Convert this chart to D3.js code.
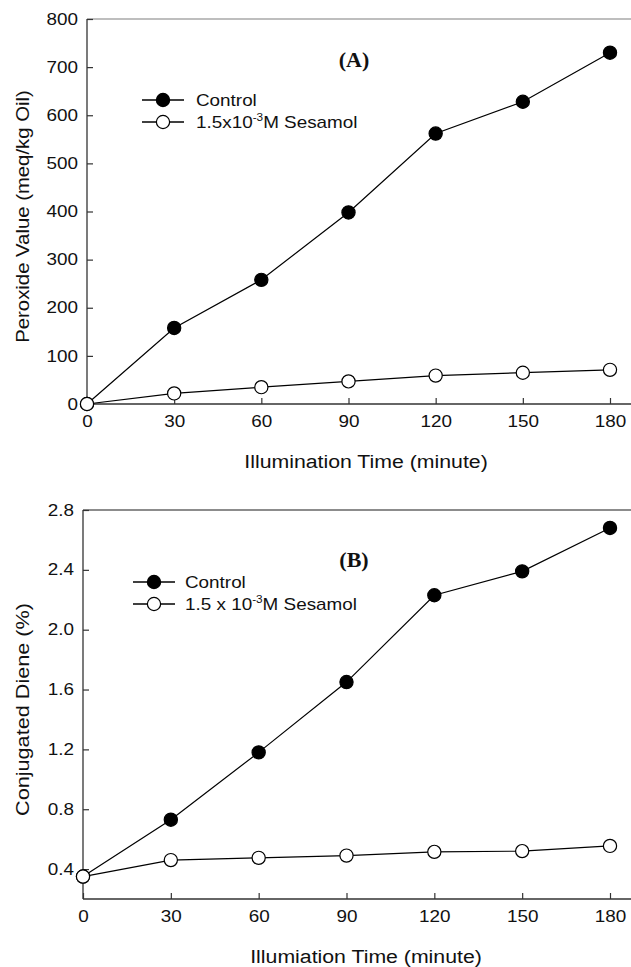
<!DOCTYPE html>
<html>
<head>
<meta charset="utf-8">
<script src="https://cdn.jsdelivr.net/npm/d3@7"></script>
<style>
  body { margin: 0; background: #fff; }
  svg { display: block; }
  text { font-family: "Liberation Sans", Arial, sans-serif; fill: #111; }
</style>
</head>
<body>
<div id="chart"></div>
<script>
//////////////////////////////////////////////////////////////
////////////////////////// Data //////////////////////////////
//////////////////////////////////////////////////////////////

var times = [0, 30, 60, 90, 120, 150, 180];

// panel A - peroxide value (meq/kg oil)
var peroxideControl = [0, 158, 258, 398, 562, 628, 730];
var peroxideSesamol = [0, 22, 35, 47, 59, 65, 71];
var peroxideTicks = [0, 100, 200, 300, 400, 500, 600, 700, 800];

// panel B - conjugated diene (%)
var dieneControl = [0.35, 0.73, 1.18, 1.65, 2.23, 2.39, 2.68];
var dieneSesamol = [0.35, 0.46, 0.475, 0.49, 0.515, 0.52, 0.555];
var dieneTicks = [0.4, 0.8, 1.2, 1.6, 2.0, 2.4, 2.8];

var width = 631, height = 967;
var stretch = 1.18;       // glyphs in the original are a bit wide
var titleStretch = 1.12;

var svg = d3.select("#chart").append("svg")
    .attr("width", width)
    .attr("height", height);

//////////////////////////////////////////////////////////////
///////////////////// Draw one panel /////////////////////////
//////////////////////////////////////////////////////////////

function drawPanel(p) {
    var x = d3.scaleLinear().domain([0, 180]).range([p.left, 610]);
    var y = d3.scaleLinear().domain(p.yDomain).range([p.bottom, p.top]);

    var g = svg.append("g");

    // top frame line
    g.append("line")
        .attr("x1", p.left).attr("x2", width)
        .attr("y1", p.top).attr("y2", p.top)
        .style("stroke", p.topColor).style("stroke-width", 1.5);

    // x axis
    var xAxis = d3.axisBottom(x).tickValues(times).tickSize(-6).tickPadding(12).tickSizeOuter(0);
    var gx = g.append("g")
        .attr("transform", "translate(0," + p.bottom + ")")
        .call(xAxis);
    gx.select(".domain").attr("d", "M" + p.left + ",0H" + width);

    // y axis
    var yAxis = d3.axisLeft(y).tickValues(p.ticks).tickSize(-6).tickPadding(9).tickSizeOuter(0)
        .tickFormat(p.format);
    var gy = g.append("g")
        .attr("transform", "translate(" + p.left + ",0)")
        .call(yAxis);
    gy.select(".domain").attr("d", "M0," + p.top + "V" + p.bottom);

    [gx, gy].forEach(function(a) {
        a.attr("font-family", null).attr("font-size", null);
        a.selectAll(".domain").style("stroke", "#333").style("stroke-width", 1.3);
        a.selectAll(".tick line").style("stroke", "#333").style("stroke-width", 1.2);
        a.selectAll(".tick text").style("font-size", "16px").style("fill", "#111");
    });
    gx.selectAll(".tick text").attr("transform", function() {
        var ty = +d3.select(this).attr("y");
        d3.select(this).attr("y", 0);
        return "translate(0," + ty + ") scale(" + stretch + ",1)";
    });
    gy.selectAll(".tick text").attr("transform", function() {
        var tx = +d3.select(this).attr("x");
        d3.select(this).attr("x", 0);
        return "translate(" + tx + ",0) scale(" + stretch + ",1)";
    });

    // axis titles
    g.append("text")
        .attr("transform", "translate(366," + (p.bottom + 64) + ") scale(" + titleStretch + ",1)")
        .attr("text-anchor", "middle")
        .style("font-size", "19px")
        .text(p.xTitle);
    g.append("text")
        .attr("transform", "translate(29," + ((p.top + p.bottom) / 2 + 5) + ") rotate(-90) scale(" + p.yTitleStretch + ",1)")
        .attr("text-anchor", "middle")
        .style("font-size", "19px")
        .text(p.yTitle);

    // panel letter
    g.append("text")
        .attr("x", 354).attr("y", p.top + p.letterDy)
        .attr("text-anchor", "middle")
        .style("font-family", "'Liberation Serif', 'Times New Roman', serif")
        .style("font-weight", "bold")
        .style("font-size", "22px")
        .text(p.letter);

    // lines and markers
    var line = d3.line()
        .x(function(d, i) { return x(times[i]); })
        .y(function(d) { return y(d); });

    [p.series[1], p.series[0]].forEach(function(s) {
        g.append("path")
            .datum(s.values)
            .attr("d", line)
            .style("fill", "none")
            .style("stroke", "#000")
            .style("stroke-width", 1.2);
    });
    [p.series[0], p.series[1]].forEach(function(s) {
        g.selectAll(null)
            .data(s.values)
            .enter().append("circle")
            .attr("cx", function(d, i) { return x(times[i]); })
            .attr("cy", function(d) { return y(d); })
            .attr("r", 6.6)
            .style("fill", s.fill)
            .style("stroke", "#000")
            .style("stroke-width", 1.2);
    });

    // legend
    var lg = g.append("g").attr("transform", "translate(" + p.legendX + "," + p.legendY + ")");
    p.series.forEach(function(s, i) {
        var row = lg.append("g").attr("transform", "translate(0," + (i * 22) + ")");
        row.append("line")
            .attr("x1", 0).attr("x2", 42)
            .style("stroke", "#000").style("stroke-width", 1.3);
        row.append("circle")
            .attr("cx", 21).attr("r", 6.6)
            .style("fill", s.fill).style("stroke", "#000").style("stroke-width", 1.2);
        var t = row.append("text")
            .attr("transform", "translate(" + p.legendTextDx + ",6) scale(" + stretch + ",1)")
            .style("font-size", "16px");
        t.append("tspan").text(s.pre);
        if (s.sup) {
            t.append("tspan").attr("dy", -7).style("font-size", "10px").text(s.sup);
            t.append("tspan").attr("dy", 7).text(s.post);
        }
    });
}

drawPanel({
    left: 87, top: 19, bottom: 404,
    yDomain: [0, 800], ticks: peroxideTicks, format: d3.format("d"),
    topColor: "#a8a8a8",
    xTitle: "Illumination Time (minute)",
    yTitle: "Peroxide Value (meq/kg Oil)", yTitleStretch: 1.07,
    letter: "(A)", letterDy: 48,
    legendX: 142, legendY: 100, legendTextDx: 54,
    series: [
        { values: peroxideControl, fill: "#000", pre: "Control" },
        { values: peroxideSesamol, fill: "#fff", pre: "1.5x10", sup: "-3", post: "M Sesamol" }
    ]
});

drawPanel({
    left: 83, top: 510, bottom: 899,
    yDomain: [0.2, 2.8], ticks: dieneTicks, format: d3.format(".1f"),
    topColor: "#666",
    xTitle: "Illumiation Time (minute)",
    yTitle: "Conjugated Diene (%)", yTitleStretch: 1.14,
    letter: "(B)", letterDy: 57,
    legendX: 133, legendY: 582, legendTextDx: 52,
    series: [
        { values: dieneControl, fill: "#000", pre: "Control" },
        { values: dieneSesamol, fill: "#fff", pre: "1.5 x 10", sup: "-3", post: "M Sesamol" }
    ]
});
</script>
</body>
</html>
